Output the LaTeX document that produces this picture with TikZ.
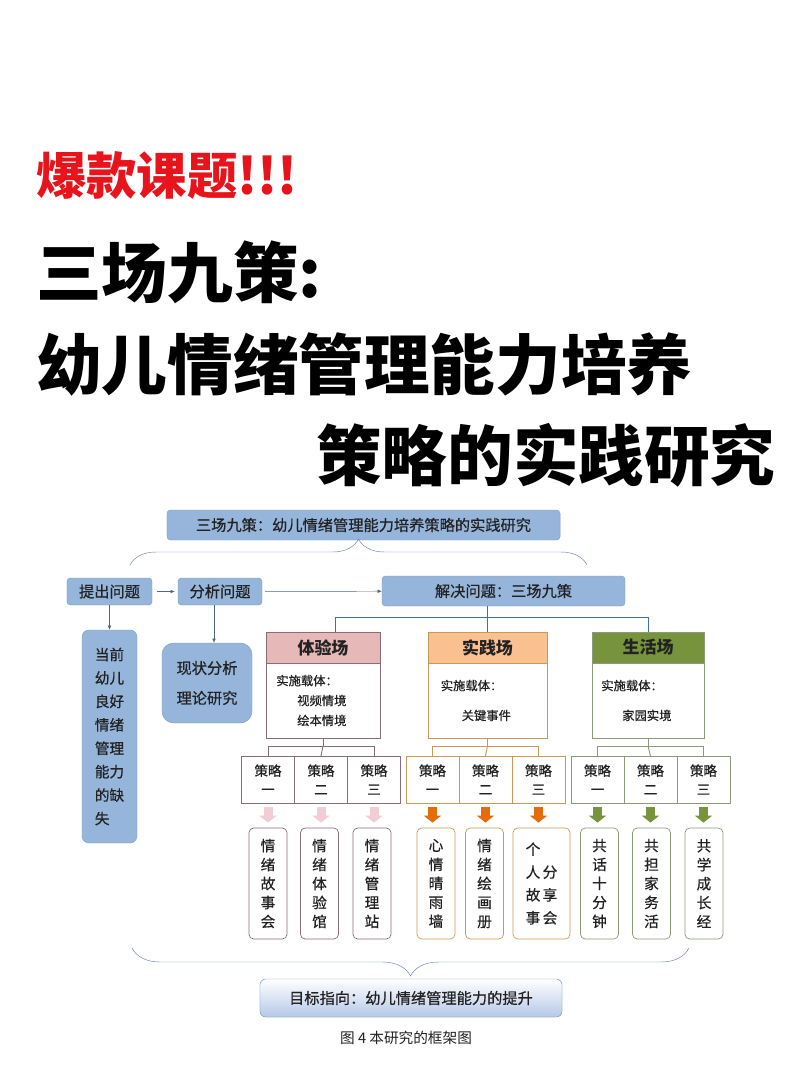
\documentclass[tikz,border=0pt]{standalone}
\usepackage{fontspec}
\setmainfont{Noto Sans CJK SC}
\newfontfamily\diag{Noto Sans CJK SC}[FakeBold=0.6]
\usetikzlibrary{positioning,arrows.meta,decorations.pathreplacing}
\definecolor{hotred}{HTML}{E8141C}
\definecolor{ink}{HTML}{222222}
\definecolor{boxblue}{HTML}{95B5DB}
\definecolor{boxedge}{HTML}{7F9FC8}
\definecolor{linkgray}{HTML}{4E6B7C}
\definecolor{linkblue}{HTML}{41709F}
\definecolor{bracecol}{HTML}{6A88A8}
\definecolor{pinkhead}{HTML}{E6B9B8}
\definecolor{pinkedge}{HTML}{8C6B78}
\definecolor{pinkarrow}{HTML}{F4CDD4}
\definecolor{orangehead}{HTML}{FAC090}
\definecolor{orangeedge}{HTML}{C79B55}
\definecolor{orangearrow}{HTML}{E46C0A}
\definecolor{greenhead}{HTML}{77933C}
\definecolor{greenedge}{HTML}{8C9A78}
\definecolor{greenarrow}{HTML}{77933C}
\definecolor{goalblue}{HTML}{B4C8E6}

\begin{document}
\begin{tikzpicture}[x=0.03cm,y=-0.03cm]
	\tikzstyle{bluebox}=[draw=boxedge,fill=boxblue,rounded corners=3pt,text=ink,inner sep=0pt,font=\diag\fontsize{13}{15}\selectfont]
	\tikzstyle{fieldhead}=[draw,outer sep=0pt,minimum height=0.93cm,inner sep=0pt,text=ink,font=\fontsize{14.5}{16}\bfseries]
	\tikzstyle{fieldbody}=[draw,fill=white,outer sep=0pt,minimum height=2.25cm,text width=2.8cm,align=left,inner sep=0pt,text=ink,font=\diag\fontsize{10.5}{17}\selectfont]
	\tikzstyle{planbox}=[draw,fill=white,outer sep=0pt,minimum width=1.59cm,minimum height=1.41cm,align=center,inner sep=0pt,text=ink,font=\diag\fontsize{11.5}{16}\selectfont]
	\tikzstyle{itembox}=[draw,fill=white,rounded corners=4pt,minimum width=1.14cm,minimum height=3.33cm,align=center,inner sep=0pt,text=ink,line width=0.6pt,font=\diag\fontsize{12.5}{16.2}\selectfont]
	\tikzstyle{link}=[draw=linkgray,-{Latex[length=3.5pt,width=3pt]}]
	\tikzstyle{forkline}=[line width=0.8pt]
	\tikzstyle{blockarrow}=[line width=0.27cm,-{Triangle[width=0.51cm,length=0.21cm]},shorten <=0.12cm,shorten >=0.15cm]
	\tikzstyle{brace}=[draw=bracecol,decorate]
	\tikzstyle{title}=[anchor=west,inner sep=0pt,text=black,font=\fontsize{56}{60}\bfseries]

	\fill[white] (0,0) rectangle (800,1067);
	\useasboundingbox (0,0) rectangle (800,1067);

	% headline
	\node[title,text=hotred,font=\fontsize{43}{46}\bfseries] (hot) at (36,176) {爆款课题!!!};
	\node[title] (t1) at (36,272) {三场九策:};
	\node[title] (t2) at (36,365) {幼儿情绪管理能力培养};
	\node[title] (t3) at (316,455) {策略的实践研究};

	% top part
	\node[bluebox,minimum width=11.79cm,minimum height=0.9cm] (top) at (363.5,525) {三场九策：幼儿情绪管理能力培养策略的实践研究};
	\coordinate (ul) at (130,565);
	\coordinate (ur) at (587,565);
	\draw[brace,decoration={brace,amplitude=0.78cm}] (ul) -- (ur);

	\node[bluebox,minimum width=2.55cm,minimum height=0.81cm] (p1) at (109.5,591.5) {提出问题};
	\node[bluebox,minimum width=2.52cm,minimum height=0.81cm] (p2) at (220,591.5) {分析问题};
	\node[bluebox,minimum width=7.29cm,minimum height=0.9cm] (p3) at (503.5,591) {解决问题：三场九策};
	\node[bluebox,rounded corners=6pt,minimum width=1.65cm,minimum height=6.39cm,align=left,font=\diag\fontsize{12.5}{20}\selectfont] (d1) at (109.5,736.5) {当前\\幼儿\\良好\\情绪\\管理\\能力\\的缺\\失};
	\node[bluebox,rounded corners=10pt,minimum width=2.7cm,minimum height=2.4cm,align=center,font=\diag\fontsize{13}{25.6}\selectfont] (d2) at (207,683) {现状分析\\理论研究};

	\draw[link,shorten <=0.15cm,shorten >=0.09cm] (p1) -- (p2);
	\draw[link,shorten <=0.09cm] (p2) -- (p3);
	\draw[link] (p1) -- (d1);
	\coordinate (kx) at (214,0);
	\draw[link] (p2.south -| kx) -- (d2.north -| kx);

	% three fields
	\node[fieldhead,fill=pinkhead,draw=pinkedge,minimum width=3.42cm] (h1) at (323,647.5) {体验场};
	\node[fieldbody,draw=pinkedge,minimum width=3.42cm,below=0pt of h1] (b1) {实施载体：\\\hspace*{1.7em}视频情境\\\hspace*{1.7em}绘本情境};
	\node[fieldhead,fill=orangehead,draw=orangeedge,minimum width=3.57cm] (h2) at (487.5,647.5) {实践场};
	\node[fieldbody,draw=orangeedge,minimum width=3.57cm,below=0pt of h2] (b2) {实施载体：\\[8.5pt]\hspace*{1.7em}关键事件};
	\node[fieldhead,fill=greenhead,draw=greenedge,minimum width=3.36cm] (h3) at (648,647.5) {生活场};
	\node[fieldbody,draw=greenedge,minimum width=3.36cm,below=0pt of h3] (b3) {实施载体：\\[8.5pt]\hspace*{1.7em}家园实境};

	\coordinate (bar) at (0,617);
	\draw[linkblue,forkline] (p3.south -| h2.north) -- (h2.north);
	\draw[linkblue,forkline] ([xshift=0.36cm]h1.north) |- (bar -| h3.north) -- (h3.north);

	% nine strategies
	\foreach \f/\c/\x in {1/pinkedge/268, 2/orangeedge/432.5, 3/greenedge/597.5}
	{
		\node[planbox,draw=\c] (s\f1) at (\x,779.5) {策略\\一};
		\node[planbox,draw=\c,right=0pt of s\f1] (s\f2) {策略\\二};
		\node[planbox,draw=\c,right=0pt of s\f2] (s\f3) {策略\\三};
		\draw[\c,forkline] (b\f.south) -- ++(0,8) coordinate (k\f);
		\draw[\c,forkline] (s\f1.north) |- (k\f) -| (s\f3.north);
		\draw[\c,forkline] (k\f) -- (s\f2.north);
	}

	% activities
	\foreach \n/\x/\c/\t in {11/268/pinkedge/{情\\绪\\故\\事\\会}, 12/319.5/pinkedge/{情\\绪\\体\\验\\馆}, 13/372/pinkedge/{情\\绪\\管\\理\\站},
		21/436/orangeedge/{心\\情\\晴\\雨\\墙}, 22/484.5/orangeedge/{情\\绪\\绘\\画\\册},
		31/599.5/greenedge/{共\\话\\十\\分\\钟}, 32/651.5/greenedge/{共\\担\\家\\务\\活}, 33/704/greenedge/{共\\学\\成\\长\\经}}
	{
		\node[itembox,draw=\c] (i\n) at (\x,883.5) {\t};
	}
	\node[itembox,draw=orangeedge,minimum width=1.71cm,align=left,font=\diag\fontsize{12.5}{19.5}\selectfont] (i23) at (541.5,883.5) {个\hspace{2pt}\phantom{分}\\人\hspace{2pt}分\\故\hspace{2pt}享\\事\hspace{2pt}会};

	\foreach \f/\c in {1/pinkarrow, 2/orangearrow, 3/greenarrow}
	{
		\foreach \n in {1,2,3}
		{
			\draw[blockarrow,\c] (s\f\n.south) -- (s\f\n.south |- i\f\n.north);
		}
	}

	% goal
	\coordinate (dl) at (132,948);
	\coordinate (dr) at (689,948);
	\draw[brace,decoration={brace,amplitude=0.84cm}] (dr) -- (dl);
	\node[bluebox,draw=boxedge,top color=white,bottom color=goalblue,rounded corners=5pt,minimum width=9.06cm,minimum height=1.14cm] (goal) at (411,998) {目标指向：幼儿情绪管理能力的提升};
	\node[text=ink,font=\fontsize{12.5}{14}\selectfont] (cap) at (406,1038) {图 4 本研究的框架图};
\end{tikzpicture}
\end{document}
